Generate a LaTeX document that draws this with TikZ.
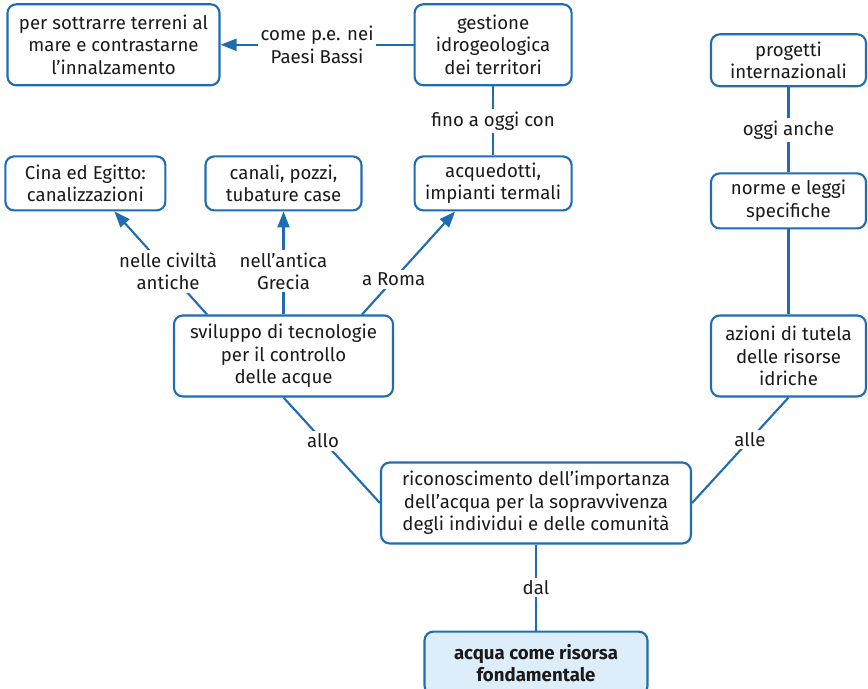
\documentclass[tikz,border=0pt]{standalone}
\usepackage{fontspec}
\setmainfont{Fira Sans}
\usetikzlibrary{arrows.meta,positioning}
\definecolor{Blue}{HTML}{1E6DB3}
\definecolor{Ink}{HTML}{1A1A1A}
\definecolor{Sky}{HTML}{DDEEFA}

\begin{document}
\begin{tikzpicture}[
    box/.style={rounded corners=5pt,draw=Blue,line width=1.2pt,fill=white,
      minimum width=3.1cm,minimum height=1.08cm,align=center,text=Ink,
      font=\fontsize{10.6}{12.8}\selectfont,inner sep=2pt},
    tall/.style={minimum height=1.62cm},
    lbl/.style={fill=white,inner sep=1.5pt,align=center,text=Ink,
      font=\fontsize{10.6}{12.8}\selectfont},
    arr/.style={-{Triangle[length=3.2mm,width=2.4mm]},line width=1.2pt,Blue},
    link/.style={line width=1.2pt,Blue}
  ]
    \useasboundingbox (0,0) rectangle (17.36,-13.76);
    % centre and bottom
    \node[box,tall,minimum width=6.2cm] (ric) at (10.72,-10.06)
      {riconoscimento dell'importanza\\dell'acqua per la sopravvivenza\\degli individui e delle comunità};
    \node[box,fill=Sky,minimum width=4.46cm,minimum height=1.26cm,font=\fontsize{10.6}{12.8}\selectfont\bfseries,
      below=1.72cm of ric] (acqua) {acqua come risorsa\\fondamentale};
    % left branch
    \node[box,tall,minimum width=4.38cm] (svil) at (5.67,-7.12)
      {sviluppo di tecnologie\\per il controllo\\delle acque};
    \node[box,minimum width=3.12cm,above=2.06cm of svil] (canali) {canali, pozzi,\\tubature case};
    \node[box,minimum width=3.2cm,left=0.76cm of canali] (cina) {Cina ed Egitto:\\canalizzazioni};
    \node[box,minimum width=3.14cm,right=1.02cm of canali] (acqued) {acquedotti,\\impianti termali};
    \node[box,tall,minimum width=3.14cm,above=1.38cm of acqued] (gest) {gestione\\idrogeologica\\dei territori};
    \node[box,tall,minimum width=4.24cm,left=3.86cm of gest] (sott)
      {per sottrarre terreni al\\mare e contrastarne\\l'innalzamento};
    % right branch
    \node[box,tall] (azioni) at (15.77,-7.12) {azioni di tutela\\delle risorse\\idriche};
    \node[box,minimum height=1.1cm,above=1.7cm of azioni] (norme) {norme e leggi\\specifiche};
    \node[box,minimum height=1.04cm,above=1.7cm of norme] (prog) {progetti\\internazionali};

    \draw[link](acqua)--node[lbl]{dal}(ric);
    \draw[link](ric.west)--node[lbl,pos=0.59]{allo}(svil.south);
    \draw[link](ric.east)--node[lbl,pos=0.6]{alle}(azioni.south);
    \draw[arr]([xshift=-1.53cm]svil.north)--node[lbl,pos=0.42]{nelle civiltà\\antiche}([xshift=0.58cm]cina.south);
    \draw[arr](svil)--node[lbl,pos=0.42]{nell'antica\\Grecia}(canali);
    \draw[arr]([xshift=1.57cm]svil.north)--node[lbl,pos=0.34]{a Roma}([xshift=-0.76cm]acqued.south);
    \draw[link](acqued)--node[lbl]{fino a oggi con}(gest);
    \draw[arr](gest)--node[lbl]{come p.e. nei\\Paesi Bassi}(sott);
    \draw[link](azioni)--(norme);
    \draw[link](norme)--node[lbl]{oggi anche}(prog);
  \end{tikzpicture}
\end{document}
